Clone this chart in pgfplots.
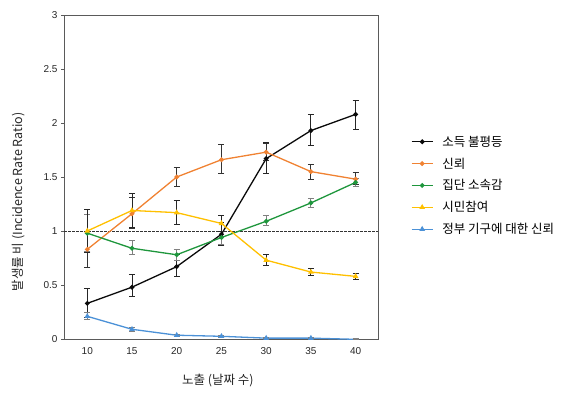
\documentclass[border=0pt]{standalone}
\usepackage{pgfplots}
\pgfplotsset{compat=1.18}
\usepackage{pgfplotstable}
\usepackage{fontspec}
\setmainfont{Liberation Sans}
\newfontfamily\kr{Noto Sans CJK KR}
\definecolor{cBlack}{RGB}{10,10,10}
\definecolor{cOrange}{RGB}{240,130,50}
\definecolor{cGreen}{RGB}{30,150,60}
\definecolor{cYellow}{RGB}{255,192,0}
\definecolor{cBlue}{RGB}{75,145,215}
\definecolor{cAxis}{RGB}{90,90,90}

\pgfplotstableread{
x y ep em
10 0.33 0.14 0.13
15 0.48 0.12 0.09
20 0.67 0.11 0.09
25 0.97 0.11 0.10
30 1.67 0.15 0.14
35 1.93 0.15 0.14
40 2.08 0.13 0.14
}\inequality
\pgfplotstableread{
x y ep em
10 0.83 0.17 0.17
15 1.16 0.15 0.14
20 1.50 0.09 0.09
25 1.66 0.14 0.13
30 1.73 0.08 0.08
35 1.55 0.07 0.07
40 1.48 0.06 0.05
}\trust
\pgfplotstableread{
x y ep em
10 0.98 0.17 0.17
15 0.84 0.07 0.06
20 0.78 0.05 0.05
25 0.94 0.06 0.06
30 1.09 0.05 0.04
35 1.26 0.04 0.04
40 1.45 0.04 0.04
}\belong
\pgfplotstableread{
x y ep em
10 1.00 0.20 0.20
15 1.19 0.16 0.16
20 1.17 0.11 0.11
25 1.07 0.07 0.07
30 0.73 0.05 0.05
35 0.62 0.03 0.03
40 0.58 0.03 0.03
}\civic
\pgfplotstableread{
x y ep em
10 0.21 0.04 0.03
15 0.09 0.02 0.02
20 0.035 0.01 0.01
25 0.025 0.01 0.01
30 0.008 0.005 0.005
35 0.008 0.005 0.005
40 -0.003 0.005 0.005
}\govt

\begin{document}
\begin{tikzpicture}[x=1pt,y=1pt]
\useasboundingbox (0,0) rectangle (567,394);
\begin{axis}[
  at={(64pt,55pt)}, anchor=south west,
  scale only axis, width=314pt, height=324pt,
  xmin=7.4, xmax=42.5, ymin=0, ymax=3,
  xtick={10,15,20,25,30,35,40},
  ytick={0,0.5,1,1.5,2,2.5,3},
  yticklabels={0,0.5,1,1.5,2,2.5,3},
  /pgf/number format/assume math mode=true,
  axis line style={cAxis, line width=0.7pt},
  x tick style={draw=none},
  y tick style={draw=cAxis, line width=0.7pt},
  ytick pos=left,
  tick align=outside, major tick length=3pt,
  ticklabel style={font=\fontsize{10}{12}\selectfont, text=black!85},
  xticklabel style={yshift=-2pt},
  xlabel={\kr 노출 (날짜 수)},
  ylabel={\kr 발생률 비 (Incidence Rate Ratio)},
  label style={font=\fontsize{12.5}{14}\selectfont, text=black!85},
  xlabel style={at={(axis description cs:0.49,-0.127)}, anchor=center},
  ylabel style={at={(axis description cs:-0.146,0.423)}, anchor=center},
  legend style={at={(axis description cs:1.095,0.64)}, anchor=north west,
    draw=none, fill=none, font=\kr\fontsize{12.5}{14}\selectfont, row sep=6pt},
  legend cell align=left,
  legend image code/.code={\draw[mark repeat=2,mark phase=2] plot coordinates {(0pt,0pt) (10.5pt,0pt) (21pt,0pt)}; \path (28pt,0pt);},
  error bars/y dir=both, error bars/y explicit,
  every axis plot/.append style={line width=1.3pt},
]
\addplot[forget plot, black!80, line width=1pt, dash pattern=on 2.5pt off 1.5pt] coordinates {(7.4,1) (42.5,1)};
\addplot[cBlack, mark=*, mark size=1.7pt,
  error bars/error bar style={black!85, line width=0.9pt},
  error bars/error mark options={rotate=90, black!85, line width=0.9pt, mark size=3pt}]
  table[x=x, y=y, y error plus=ep, y error minus=em] {\inequality};
\addlegendentry{소득 불평등}
\addplot[cOrange, mark=*, mark size=1.7pt,
  error bars/error bar style={black!80, line width=0.9pt},
  error bars/error mark options={rotate=90, black!80, line width=0.9pt, mark size=3pt}]
  table[x=x, y=y, y error plus=ep, y error minus=em] {\trust};
\addlegendentry{신뢰}
\addplot[cGreen, mark=*, mark size=1.7pt,
  error bars/error bar style={gray, line width=0.9pt},
  error bars/error mark options={rotate=90, gray, line width=0.9pt, mark size=3pt}]
  table[x=x, y=y, y error plus=ep, y error minus=em] {\belong};
\addlegendentry{집단 소속감}
\addplot[cYellow, mark=triangle*, mark size=2pt,
  error bars/error bar style={black!85, line width=0.9pt},
  error bars/error mark options={rotate=90, black!85, line width=0.9pt, mark size=3pt}]
  table[x=x, y=y, y error plus=ep, y error minus=em] {\civic};
\addlegendentry{시민참여}
\addplot[cBlue, mark=triangle*, mark size=2pt,
  error bars/error bar style={gray, line width=0.9pt},
  error bars/error mark options={rotate=90, gray, line width=0.9pt, mark size=3pt}]
  table[x=x, y=y, y error plus=ep, y error minus=em] {\govt};
\addlegendentry{정부 기구에 대한 신뢰}
\end{axis}
\end{tikzpicture}
\end{document}
